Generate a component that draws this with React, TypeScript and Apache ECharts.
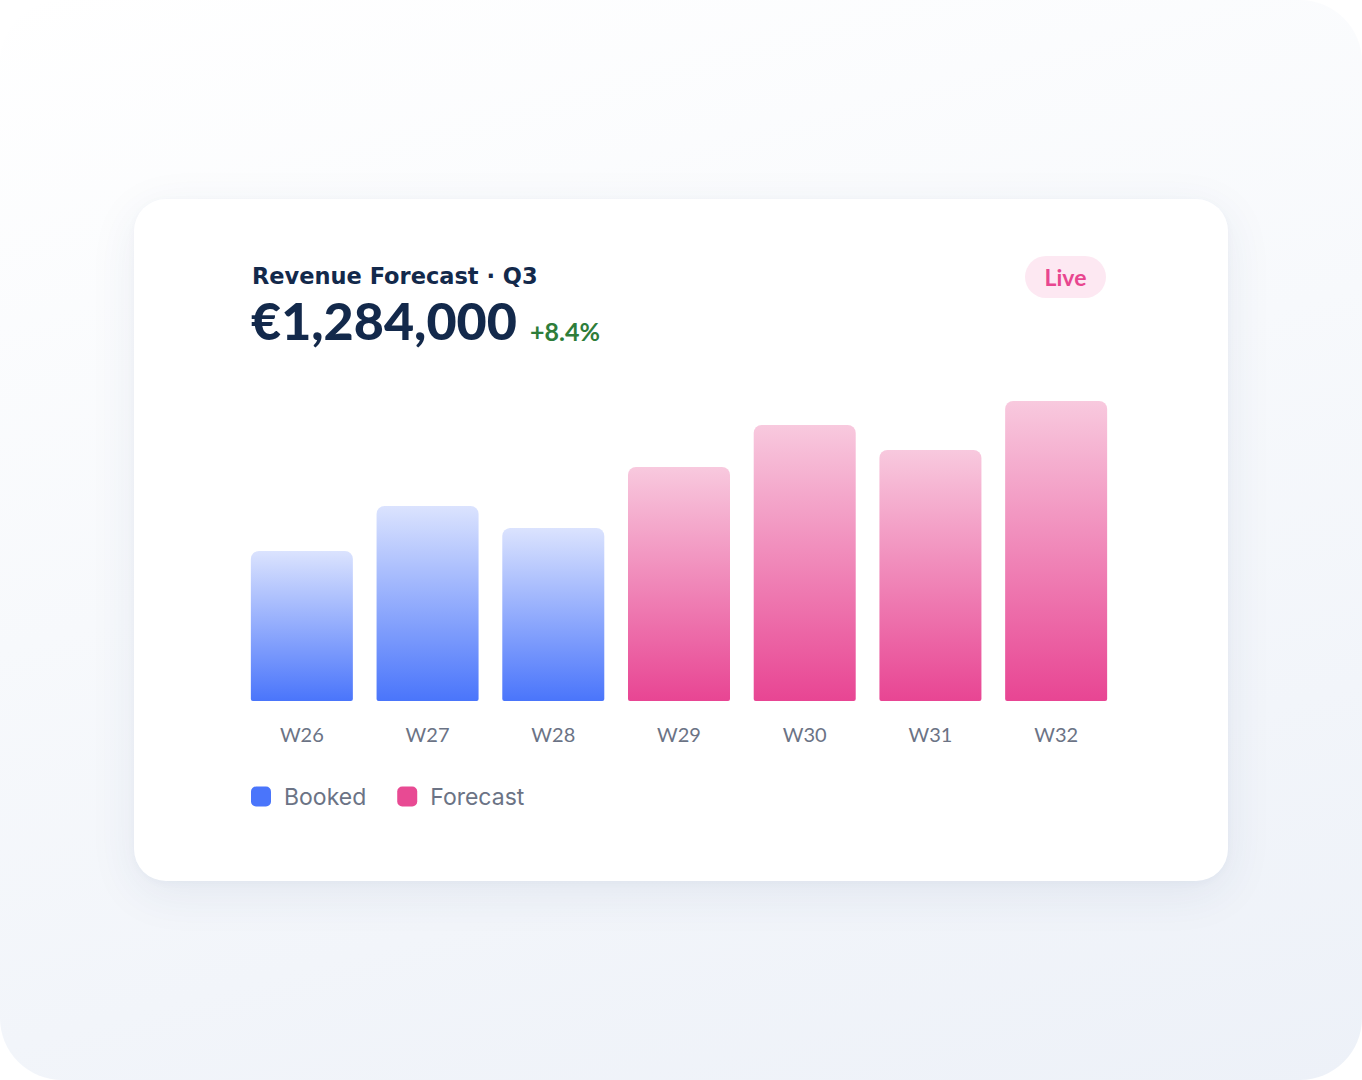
import React, { useEffect, useRef } from "react";
import * as echarts from "echarts";

const categories = ["W26", "W27", "W28", "W29", "W30", "W31", "W32"];
const bookedValues = [150, 195, 173, null, null, null, null];
const forecastValues = [null, null, null, 234, 276, 251, 300];
const titleText = "Revenue Forecast · Q3";
const totalText = "€1,284,000";
const changeText = "+8.4%";
const badgeText = "Live";
const legendNames = ["Booked", "Forecast"];

export default function App() {
  const ref = useRef<HTMLDivElement>(null);
  useEffect(() => {
    if (!ref.current) return;
    const chart = echarts.init(ref.current, undefined, { renderer: "svg" });
    const blueGrad = new echarts.graphic.LinearGradient(0, 0, 0, 1, [
      { offset: 0, color: "#dbe3fe" },
      { offset: 1, color: "#4a75fb" },
    ]);
    const pinkGrad = new echarts.graphic.LinearGradient(0, 0, 0, 1, [
      { offset: 0, color: "#f8c9de" },
      { offset: 1, color: "#e84593" },
    ]);
    chart.setOption({
      animation: false,
      grid: { left: 239, right: 243, top: 401, bottom: 379, containLabel: false },
      xAxis: {
        type: "category",
        data: categories,
        axisLine: { show: false },
        axisTick: { show: false },
        axisLabel: {
          margin: 23,
          fontSize: 20,
          color: "#6b7385",
          fontFamily: "Lato",
        },
      },
      yAxis: { type: "value", min: 0, max: 300, show: false, splitLine: { show: false } },
      legend: {
        left: 246,
        top: 780,
        itemWidth: 20,
        itemHeight: 20,
        itemGap: 31,
        icon: "roundRect",
        textStyle: {
          fontSize: 23,
          color: "#6b7385",
          fontFamily: "Inter",
          padding: [0, 0, 0, 8],
        },
        data: [
          { name: legendNames[0], itemStyle: { color: "#4a75fb", borderRadius: 5 } },
          { name: legendNames[1], itemStyle: { color: "#e84a93", borderRadius: 5 } },
        ],
      },
      series: [
        {
          name: legendNames[0],
          type: "bar",
          data: bookedValues,
          barWidth: 102,
          barGap: "-100%",
          itemStyle: { color: blueGrad, borderRadius: [8, 8, 2, 2] },
        },
        {
          name: legendNames[1],
          type: "bar",
          data: forecastValues,
          barWidth: 102,
          barGap: "-100%",
          itemStyle: { color: pinkGrad, borderRadius: [8, 8, 2, 2] },
        },
      ],
      graphic: [
        {
          type: "text",
          style: {
            x: 252,
            y: 276,
            text: titleText,
            font: "bold 22.5px 'DejaVu Sans'",
            fill: "#13294b",
            verticalAlign: "middle",
          },
        },
        {
          type: "text",
          style: {
            x: 251,
            y: 320,
            text: totalText,
            font: "900 52px Lato",
            fill: "#13294b",
            verticalAlign: "middle",
          },
        },
        {
          type: "text",
          style: {
            x: 530,
            y: 331,
            text: changeText,
            font: "bold 25px Lato",
            fill: "#2e7d3a",
            verticalAlign: "middle",
          },
        },
        {
          type: "rect",
          shape: { x: 1025, y: 256, width: 81, height: 42, r: 21 },
          style: { fill: "#fde8f2" },
        },
        {
          type: "text",
          style: {
            x: 1065.5,
            y: 277,
            text: badgeText,
            font: "bold 23px Lato",
            fill: "#e8468f",
            align: "center",
            verticalAlign: "middle",
          },
        },
      ],
    });
    return () => chart.dispose();
  }, []);

  return (
    <div
      style={{
        position: "fixed",
        left: 0,
        top: 0,
        width: 1362,
        height: 1080,
        background: "#ffffff",
      }}
    >
      <div
        style={{
          position: "absolute",
          left: 0,
          top: 0,
          width: 1362,
          height: 1080,
          borderRadius: 62,
          background: "linear-gradient(165deg, #ffffff 0%, #f7f9fc 45%, #edf1f8 100%)",
        }}
      />
      <div
        style={{
          position: "absolute",
          left: 134,
          top: 199,
          width: 1094,
          height: 682,
          borderRadius: 32,
          background: "#ffffff",
          boxShadow: "0 12px 48px rgba(40, 60, 120, 0.08), 0 2px 8px rgba(40,60,120,0.03)",
        }}
      />
      <div
        ref={ref}
        style={{ position: "absolute", left: 0, top: 0, width: 1362, height: 1080 }}
      />
    </div>
  );
}
